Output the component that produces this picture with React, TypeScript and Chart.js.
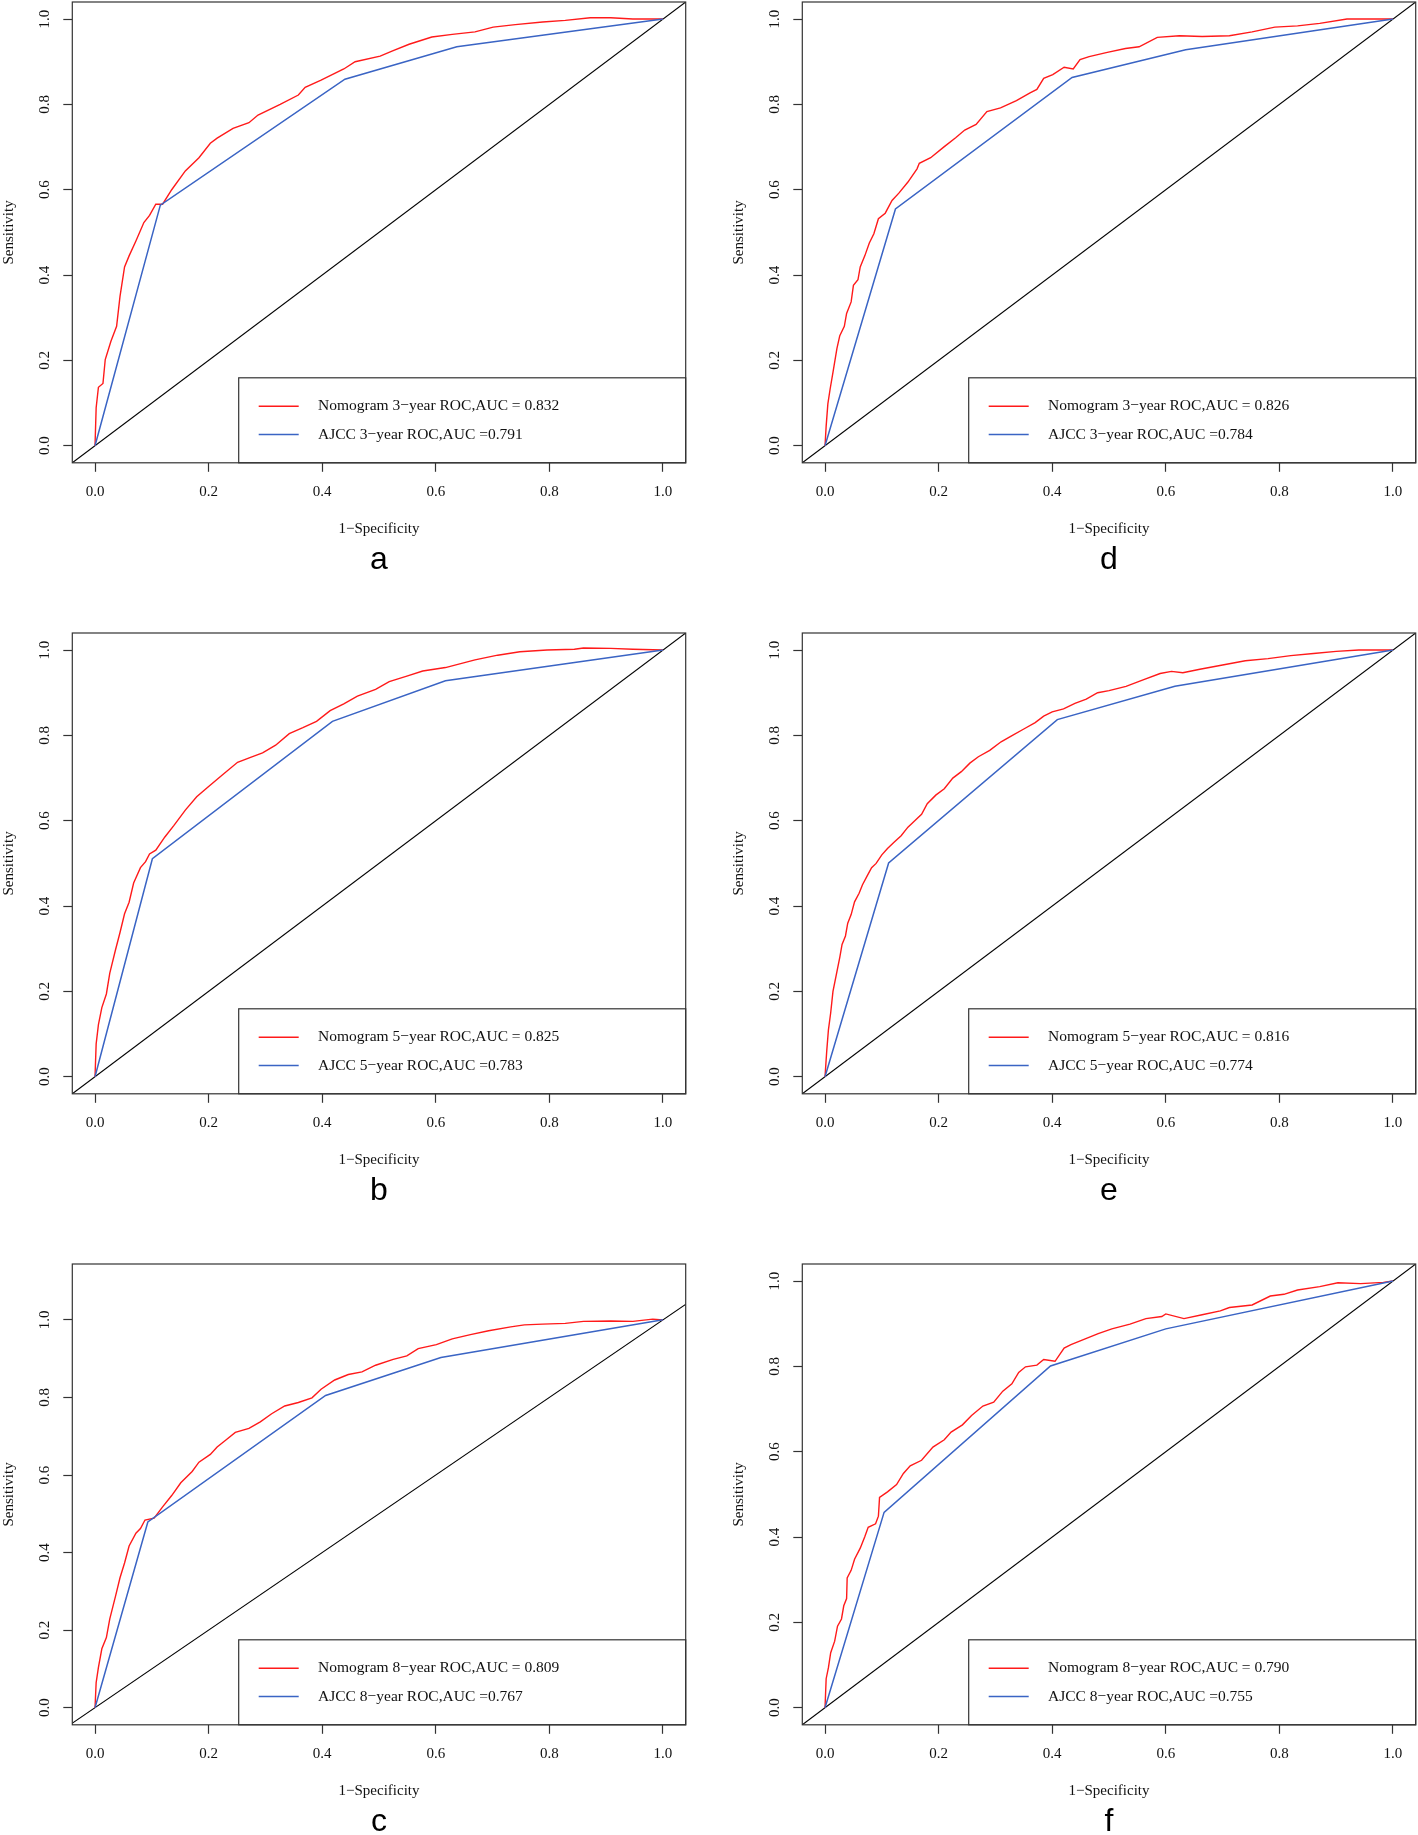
import React, { useEffect, useRef } from 'react';
import { Chart, registerables } from 'chart.js';

Chart.register(...registerables);

// ---------------- data ----------------
const X_TICKS = [0, 0.2, 0.4, 0.6, 0.8, 1.0];
const Y_TICKS = [0, 0.2, 0.4, 0.6, 0.8, 1.0];
const PANEL_LETTERS = ['a', 'b', 'c', 'd', 'e', 'f'];
const PANEL_YEARS = ['3', '5', '8', '3', '5', '8'];
const NOMOGRAM_AUC = ['0.832', '0.825', '0.809', '0.826', '0.816', '0.790'];
const AJCC_AUC = ['0.791', '0.783', '0.767', '0.784', '0.774', '0.755'];
const Y_LIMIT_TOP = [1, 1, 1.1, 1, 1, 1];
const X_AXIS_TITLE = '1\u2212Specificity';
const Y_AXIS_TITLE = 'Sensitivity';
const REFERENCE_LINE: [number, number][] = [[-1, -1], [2, 2]];

const NOM_A: [number, number][] = [
  [0, 0], [0.002, 0.089], [0.006, 0.137], [0.014, 0.146], [0.018, 0.202], [0.028, 0.245],
  [0.038, 0.28], [0.044, 0.35], [0.052, 0.419], [0.06, 0.445], [0.072, 0.48], [0.086, 0.523],
  [0.096, 0.54], [0.107, 0.566], [0.119, 0.566], [0.135, 0.6], [0.159, 0.644], [0.183, 0.675],
  [0.203, 0.709], [0.215, 0.721], [0.243, 0.744], [0.271, 0.757], [0.287, 0.775], [0.326, 0.8],
  [0.358, 0.822], [0.37, 0.84], [0.398, 0.857], [0.438, 0.883], [0.458, 0.9], [0.502, 0.913],
  [0.525, 0.926], [0.553, 0.941], [0.593, 0.958], [0.629, 0.964], [0.669, 0.97], [0.701, 0.981],
  [0.74, 0.987], [0.788, 0.993], [0.828, 0.997], [0.872, 1.003], [0.908, 1.003], [0.947, 1.0], [1, 1],
];
const AJCC_A: [number, number][] = [[0, 0], [0.115, 0.564], [0.44, 0.859], [0.637, 0.935], [1, 1]];

const NOM_B: [number, number][] = [
  [0, 0], [0.002, 0.077], [0.006, 0.122], [0.012, 0.162], [0.02, 0.194], [0.026, 0.243],
  [0.036, 0.297], [0.044, 0.338], [0.052, 0.382], [0.06, 0.409], [0.068, 0.454], [0.08, 0.49],
  [0.089, 0.504], [0.096, 0.522], [0.107, 0.531], [0.123, 0.562], [0.139, 0.589], [0.159, 0.625],
  [0.179, 0.656], [0.199, 0.679], [0.223, 0.706], [0.251, 0.737], [0.275, 0.749], [0.295, 0.759],
  [0.318, 0.777], [0.342, 0.804], [0.366, 0.818], [0.39, 0.833], [0.414, 0.858], [0.438, 0.874],
  [0.462, 0.892], [0.494, 0.908], [0.518, 0.926], [0.549, 0.939], [0.577, 0.951], [0.617, 0.959],
  [0.669, 0.977], [0.709, 0.988], [0.748, 0.996], [0.796, 1.0], [0.844, 1.002], [0.86, 1.005],
  [0.908, 1.004], [0.947, 1.002], [1, 1],
];
const AJCC_B: [number, number][] = [[0, 0], [0.101, 0.511], [0.418, 0.833], [0.617, 0.928], [1, 1]];

const NOM_C: [number, number][] = [
  [0, 0], [0.002, 0.065], [0.006, 0.104], [0.012, 0.152], [0.02, 0.181], [0.026, 0.229],
  [0.036, 0.287], [0.044, 0.335], [0.052, 0.373], [0.06, 0.417], [0.072, 0.45], [0.08, 0.462],
  [0.088, 0.484], [0.104, 0.489], [0.119, 0.518], [0.135, 0.547], [0.151, 0.58], [0.171, 0.609],
  [0.183, 0.633], [0.203, 0.653], [0.215, 0.672], [0.231, 0.691], [0.247, 0.71], [0.271, 0.72],
  [0.291, 0.737], [0.311, 0.758], [0.334, 0.778], [0.358, 0.787], [0.382, 0.799], [0.398, 0.821],
  [0.422, 0.845], [0.446, 0.859], [0.47, 0.866], [0.494, 0.883], [0.525, 0.898], [0.549, 0.907],
  [0.569, 0.926], [0.601, 0.936], [0.629, 0.951], [0.661, 0.962], [0.693, 0.972], [0.732, 0.982],
  [0.756, 0.987], [0.788, 0.989], [0.828, 0.991], [0.86, 0.996], [0.908, 0.997], [0.947, 0.996],
  [0.982, 1.002], [1, 1],
];
const AJCC_C: [number, number][] = [[0, 0], [0.093, 0.479], [0.406, 0.805], [0.609, 0.903], [1, 1]];

const NOM_D: [number, number][] = [
  [0, 0], [0.002, 0.046], [0.005, 0.098], [0.009, 0.133], [0.014, 0.172], [0.021, 0.228],
  [0.026, 0.258], [0.034, 0.28], [0.038, 0.31], [0.046, 0.337], [0.05, 0.376], [0.058, 0.389],
  [0.062, 0.419], [0.07, 0.445], [0.078, 0.475], [0.086, 0.497], [0.094, 0.532], [0.106, 0.545],
  [0.118, 0.575], [0.13, 0.592], [0.146, 0.618], [0.162, 0.649], [0.166, 0.662], [0.186, 0.675],
  [0.21, 0.701], [0.23, 0.722], [0.246, 0.74], [0.266, 0.753], [0.285, 0.783], [0.309, 0.792],
  [0.337, 0.809], [0.361, 0.827], [0.373, 0.835], [0.385, 0.861], [0.401, 0.87], [0.421, 0.887],
  [0.437, 0.883], [0.449, 0.905], [0.465, 0.912], [0.497, 0.922], [0.529, 0.931], [0.553, 0.935],
  [0.585, 0.957], [0.624, 0.961], [0.664, 0.959], [0.712, 0.961], [0.752, 0.97], [0.792, 0.981],
  [0.832, 0.984], [0.871, 0.99], [0.919, 1.0], [0.959, 1.0], [1, 1],
];
const AJCC_D: [number, number][] = [[0, 0], [0.124, 0.555], [0.435, 0.863], [0.635, 0.928], [1, 1]];

const NOM_E: [number, number][] = [
  [0, 0], [0.003, 0.06], [0.006, 0.11], [0.01, 0.15], [0.014, 0.2], [0.02, 0.24], [0.026, 0.28],
  [0.03, 0.31], [0.036, 0.33], [0.04, 0.36], [0.046, 0.38], [0.052, 0.41], [0.06, 0.43],
  [0.066, 0.45], [0.074, 0.47], [0.082, 0.49], [0.09, 0.5], [0.1, 0.52], [0.11, 0.535],
  [0.122, 0.55], [0.134, 0.565], [0.146, 0.585], [0.158, 0.6], [0.17, 0.615], [0.18, 0.64],
  [0.195, 0.66], [0.21, 0.675], [0.225, 0.7], [0.24, 0.715], [0.255, 0.735], [0.27, 0.75],
  [0.29, 0.765], [0.31, 0.785], [0.33, 0.8], [0.35, 0.815], [0.37, 0.83], [0.385, 0.845],
  [0.4, 0.855], [0.42, 0.862], [0.44, 0.875], [0.46, 0.885], [0.48, 0.9], [0.5, 0.905],
  [0.53, 0.915], [0.56, 0.93], [0.59, 0.945], [0.61, 0.95], [0.63, 0.947], [0.66, 0.955],
  [0.7, 0.965], [0.74, 0.975], [0.78, 0.98], [0.82, 0.987], [0.86, 0.992], [0.9, 0.997],
  [0.94, 1.0], [0.97, 1.0], [1, 1],
];
const AJCC_E: [number, number][] = [[0, 0], [0.112, 0.501], [0.409, 0.837], [0.616, 0.915], [1, 1]];

const NOM_F: [number, number][] = [
  [0, 0], [0.002, 0.068], [0.006, 0.094], [0.01, 0.129], [0.017, 0.156], [0.022, 0.191],
  [0.029, 0.208], [0.033, 0.239], [0.038, 0.256], [0.039, 0.304], [0.046, 0.322], [0.052, 0.348],
  [0.062, 0.374], [0.07, 0.401], [0.076, 0.423], [0.089, 0.431], [0.094, 0.449], [0.096, 0.493],
  [0.11, 0.506], [0.126, 0.523], [0.138, 0.549], [0.15, 0.567], [0.17, 0.58], [0.19, 0.611],
  [0.21, 0.628], [0.222, 0.646], [0.242, 0.663], [0.258, 0.685], [0.278, 0.707], [0.297, 0.716],
  [0.313, 0.742], [0.329, 0.759], [0.341, 0.786], [0.353, 0.799], [0.373, 0.803], [0.385, 0.816],
  [0.405, 0.812], [0.421, 0.843], [0.433, 0.851], [0.457, 0.864], [0.481, 0.877], [0.505, 0.888],
  [0.537, 0.899], [0.565, 0.912], [0.593, 0.917], [0.6, 0.923], [0.632, 0.912], [0.664, 0.921],
  [0.696, 0.93], [0.712, 0.938], [0.752, 0.944], [0.784, 0.965], [0.808, 0.969], [0.832, 0.979],
  [0.871, 0.987], [0.903, 0.996], [0.943, 0.994], [0.983, 0.997], [1, 1],
];
const AJCC_F: [number, number][] = [[0, 0], [0.104, 0.458], [0.397, 0.801], [0.6, 0.888], [1, 1]];

const NOMOGRAM_SERIES = [NOM_A, NOM_B, NOM_C, NOM_D, NOM_E, NOM_F];
const AJCC_SERIES = [AJCC_A, AJCC_B, AJCC_C, AJCC_D, AJCC_E, AJCC_F];

// ---------------- styling / layout ----------------
const FONT_SERIF = "'Liberation Serif', 'Times New Roman', Times, serif";
const FONT_SANS = "'Liberation Sans', Arial, Helvetica, sans-serif";
const RED = '#FF1A1A';
const BLUE = '#3A64C4';
const FRAME = '#333333';
const TEXT = '#111111';

const CANVAS_W = 688;
const CANVAS_H = 584;
const PLOT_H = 460.8;
const Y_AXIS_W = 72.3;
const X_AXIS_H = 75;
const PAD_TOP = 2;
const PAD_RIGHT = 2.3;
const LETTER_SIZE = 32;
const LETTER_PAD_TOP = 3;
const PAD_BOTTOM = CANVAS_H - PAD_TOP - PLOT_H - X_AXIS_H - LETTER_SIZE * 1.2 - LETTER_PAD_TOP;
const LEGEND_W = 447;
const LEGEND_H = 85;

const COL_X = [0, 730];
const ROW_Y = [0, 631, 1262];

const rocFrameLegend = {
  id: 'rocFrameLegend',
  afterDatasetsDraw(chart: any, _args: any, opts: any) {
    const { ctx, chartArea: ca } = chart;
    const left = ca.right - LEGEND_W;
    const top = ca.bottom - LEGEND_H;
    ctx.save();
    ctx.fillStyle = '#ffffff';
    ctx.fillRect(left, top, LEGEND_W, LEGEND_H);
    ctx.strokeStyle = FRAME;
    ctx.lineWidth = 1.2;
    ctx.strokeRect(left, top, LEGEND_W, LEGEND_H);
    const rows = opts.rows || [];
    rows.forEach((r: any, i: number) => {
      const y = top + 28.4 + i * 28.3;
      ctx.strokeStyle = r.color;
      ctx.lineWidth = 1.5;
      ctx.beginPath();
      ctx.moveTo(left + 20, y);
      ctx.lineTo(left + 60, y);
      ctx.stroke();
      ctx.fillStyle = TEXT;
      ctx.font = `15.5px ${FONT_SERIF}`;
      ctx.textBaseline = 'middle';
      ctx.textAlign = 'left';
      ctx.fillText(r.label, left + 79.3, y);
    });
    ctx.strokeStyle = FRAME;
    ctx.lineWidth = 1.2;
    ctx.strokeRect(ca.left, ca.top, ca.right - ca.left, ca.bottom - ca.top);
    ctx.restore();
  },
};

const toXY = (arr: [number, number][]) => arr.map(([x, y]) => ({ x, y }));

function zeroPad(s: any) {
  s.paddingTop = 0;
  s.paddingBottom = 0;
  s.paddingLeft = 0;
  s.paddingRight = 0;
}

function RocPanel({ idx }: { idx: number }) {
  const ref = useRef<HTMLCanvasElement | null>(null);
  useEffect(() => {
    const canvas = ref.current;
    if (!canvas) return;
    const top = Y_LIMIT_TOP[idx];
    const nomLabel = `Nomogram ${PANEL_YEARS[idx]}\u2212year ROC,AUC = ${NOMOGRAM_AUC[idx]}`;
    const ajccLabel = `AJCC ${PANEL_YEARS[idx]}\u2212year ROC,AUC =${AJCC_AUC[idx]}`;
    const tickFont = { family: FONT_SERIF, size: 15 };
    const chart = new Chart(canvas, {
      type: 'line',
      data: {
        datasets: [
          {
            label: ajccLabel,
            data: toXY(AJCC_SERIES[idx]),
            borderColor: BLUE,
            borderWidth: 1.5,
            pointRadius: 0,
            tension: 0,
            fill: false,
          },
          {
            label: nomLabel,
            data: toXY(NOMOGRAM_SERIES[idx]),
            borderColor: RED,
            borderWidth: 1.4,
            pointRadius: 0,
            tension: 0,
            fill: false,
          },
          {
            label: 'reference',
            data: toXY(REFERENCE_LINE),
            borderColor: '#000000',
            borderWidth: 1.1,
            pointRadius: 0,
            tension: 0,
            fill: false,
          },
        ],
      },
      options: {
        animation: false,
        responsive: false,
        maintainAspectRatio: false,
        devicePixelRatio: 1,
        events: [],
        layout: { padding: { top: PAD_TOP, left: 0, right: PAD_RIGHT, bottom: PAD_BOTTOM } },
        scales: {
          x: {
            type: 'linear',
            min: -0.04,
            max: 1.04,
            afterBuildTicks: (s: any) => {
              s.ticks = X_TICKS.map((v) => ({ value: v }));
            },
            afterFit: (s: any) => {
              s.height = X_AXIS_H;
              zeroPad(s);
            },
            ticks: {
              autoSkip: false,
              maxRotation: 0,
              minRotation: 0,
              padding: 11,
              color: TEXT,
              font: tickFont,
              callback: (v: any) => Number(v).toFixed(1),
            },
            grid: {
              display: true,
              drawOnChartArea: false,
              drawTicks: true,
              tickLength: 9,
              tickWidth: 1.2,
              tickColor: FRAME,
              color: FRAME,
            },
            border: { display: false },
            title: {
              display: true,
              text: X_AXIS_TITLE,
              color: TEXT,
              font: { family: FONT_SERIF, size: 15 },
              padding: { top: 0, bottom: 0 },
            },
          },
          y: {
            type: 'linear',
            min: -0.04 * top,
            max: 1.04 * top,
            afterBuildTicks: (s: any) => {
              s.ticks = Y_TICKS.map((v) => ({ value: v }));
            },
            afterFit: (s: any) => {
              s.width = Y_AXIS_W;
              zeroPad(s);
            },
            ticks: {
              autoSkip: false,
              minRotation: 90,
              maxRotation: 90,
              crossAlign: 'center',
              padding: 8.9,
              color: TEXT,
              font: tickFont,
              callback: (v: any) => Number(v).toFixed(1),
            },
            grid: {
              display: true,
              drawOnChartArea: false,
              drawTicks: true,
              tickLength: 9,
              tickWidth: 1.2,
              tickColor: FRAME,
              color: FRAME,
            },
            border: { display: false },
            title: {
              display: true,
              text: Y_AXIS_TITLE,
              color: TEXT,
              font: { family: FONT_SERIF, size: 15, lineHeight: 1 },
              padding: { top: 2, bottom: 0 },
            },
          },
        },
        plugins: {
          legend: { display: false },
          tooltip: { enabled: false },
          title: {
            display: true,
            text: PANEL_LETTERS[idx],
            position: 'bottom',
            fullSize: false,
            color: '#000000',
            font: { family: FONT_SANS, size: LETTER_SIZE, weight: 'normal' },
            padding: { top: LETTER_PAD_TOP, bottom: 0 },
          },
          rocFrameLegend: {
            rows: [
              { label: nomLabel, color: RED },
              { label: ajccLabel, color: BLUE },
            ],
          },
        } as any,
      } as any,
      plugins: [rocFrameLegend],
    } as any);
    return () => chart.destroy();
  }, [idx]);

  const col = idx < 3 ? 0 : 1;
  const row = idx % 3;
  return (
    <canvas
      ref={ref}
      width={CANVAS_W}
      height={CANVAS_H}
      style={{
        position: 'absolute',
        left: COL_X[col],
        top: ROW_Y[row],
        width: CANVAS_W,
        height: CANVAS_H,
        display: 'block',
      }}
    />
  );
}

export default function App() {
  return (
    <div
      style={{
        position: 'absolute',
        left: 0,
        top: 0,
        width: 1418,
        height: 1835,
        background: '#ffffff',
        overflow: 'hidden',
      }}
    >
      {PANEL_LETTERS.map((_, i) => (
        <RocPanel key={i} idx={i} />
      ))}
    </div>
  );
}
